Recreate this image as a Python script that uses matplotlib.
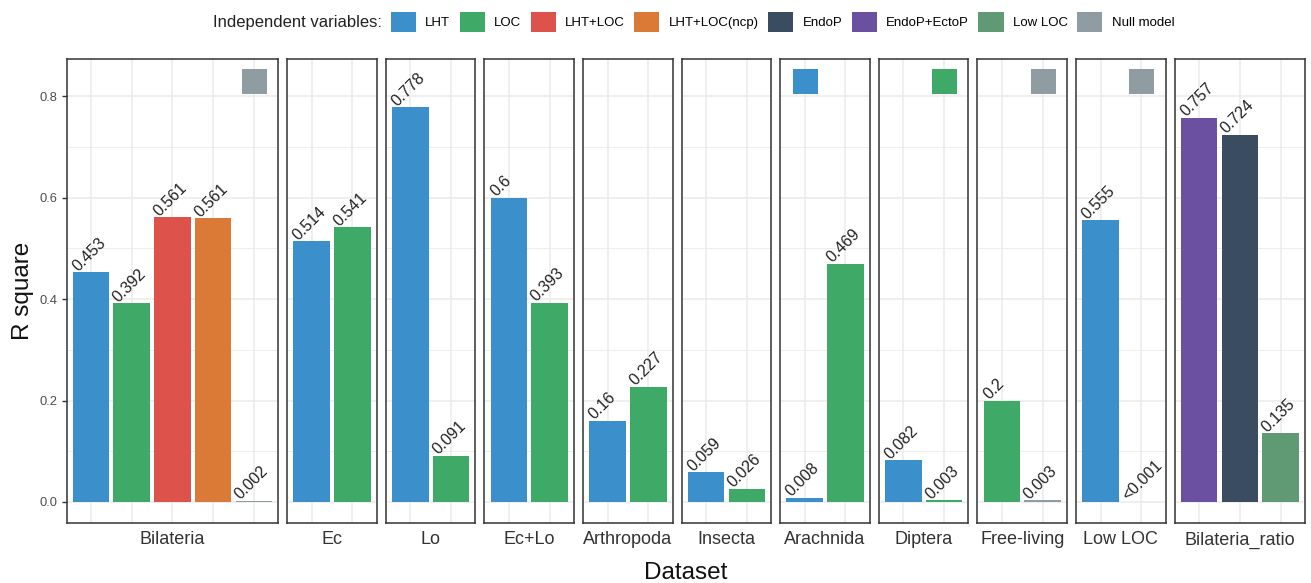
import matplotlib
matplotlib.use("Agg")
import matplotlib.pyplot as plt
from matplotlib.patches import Patch

plt.rcParams["font.family"] = ["Liberation Sans", "DejaVu Sans"]

# legend order and fill colours
models = ["LHT", "LOC", "LHT+LOC", "LHT+LOC(ncp)", "EndoP", "EndoP+EctoP", "Low LOC", "Null model"]
model_colors = ["#3B90CB", "#3FAA67", "#DD524A", "#DB7A37", "#3A4D60", "#6B4FA0", "#5F9A74", "#8F9DA2"]

datasets = ["Bilateria", "Ec", "Lo", "Ec+Lo", "Arthropoda", "Insecta",
            "Arachnida", "Diptera", "Free-living", "Low LOC", "Bilateria_ratio"]

panel_models = [
    ["LHT", "LOC", "LHT+LOC", "LHT+LOC(ncp)", "Null model"],
    ["LHT", "LOC"],
    ["LHT", "LOC"],
    ["LHT", "LOC"],
    ["LHT", "LOC"],
    ["LHT", "LOC"],
    ["LHT", "LOC"],
    ["LHT", "LOC"],
    ["LOC", "Null model"],
    ["LHT", "Null model"],
    ["EndoP+EctoP", "EndoP", "Low LOC"],
]
panel_r2 = [
    [0.453, 0.392, 0.561, 0.559, 0.002],
    [0.514, 0.541],
    [0.778, 0.091],
    [0.600, 0.393],
    [0.160, 0.227],
    [0.059, 0.026],
    [0.008, 0.469],
    [0.082, 0.003],
    [0.200, 0.003],
    [0.555, 0.0004],
    [0.757, 0.724, 0.135],
]
panel_labels = [
    ["0.453", "0.392", "0.561", "0.561", "0.002"],
    ["0.514", "0.541"],
    ["0.778", "0.091"],
    ["0.6", "0.393"],
    ["0.16", "0.227"],
    ["0.059", "0.026"],
    ["0.008", "0.469"],
    ["0.082", "0.003"],
    ["0.2", "0.003"],
    ["0.555", "<0.001"],
    ["0.757", "0.724", "0.135"],
]
# square marker shown at the top of some panels
best_model = ["Null model", None, None, None, None, None, "LHT", "LOC", "Null model", "Null model", None]
marker_y = 0.83

color_of = dict(zip(models, model_colors))

W, H = 1311, 583
fig = plt.figure(figsize=(W / 100, H / 100), dpi=100)

left_px, right_px, top_px, bot_px, gap = 66.5, 1305, 59, 523, 9
widths = [len(m) + 0.2 for m in panel_models]
unit = (right_px - left_px - gap * (len(datasets) - 1)) / sum(widths)

x0 = left_px
for i, name in enumerate(datasets):
    mods = panel_models[i]
    n = len(mods)
    w = widths[i] * unit
    ax = fig.add_axes([x0 / W, 1 - bot_px / H, w / W, (bot_px - top_px) / H])
    xs = list(range(n))
    ax.bar(xs, panel_r2[i], width=0.9, color=[color_of[m] for m in mods], zorder=2)
    for x, v, lab in zip(xs, panel_r2[i], panel_labels[i]):
        ax.text(x - 0.32, v + 0.001, lab, rotation=45, rotation_mode="anchor",
                ha="left", va="baseline", fontsize=11.5, color="#222222", zorder=3)
    if best_model[i] is not None:
        bx = mods.index(best_model[i])
        ax.plot([bx], [marker_y], marker="s", markersize=18, markeredgewidth=0,
                color=color_of[best_model[i]], zorder=3)
    ax.set_xlim(-0.6, n - 0.4)
    ax.set_ylim(-0.0414, 0.873)
    ax.set_xticks(xs)
    ax.set_yticks([0, 0.2, 0.4, 0.6, 0.8])
    ax.set_yticks([0.1, 0.3, 0.5, 0.7], minor=True)
    ax.grid(which="major", color="#EBEBEB", lw=1.1)
    ax.grid(which="minor", axis="y", color="#EBEBEB", lw=0.6)
    ax.set_axisbelow(True)
    ax.tick_params(axis="x", length=0, labelbottom=False)
    ax.tick_params(axis="y", which="minor", length=0)
    if i == 0:
        ax.set_yticklabels(["0.0", "0.2", "0.4", "0.6", "0.8"])
        ax.tick_params(axis="y", which="major", length=3.8, width=1, color="#333333",
                       labelsize=9.3, labelcolor="#4D4D4D", pad=3)
    else:
        ax.tick_params(axis="y", which="major", length=0, labelleft=False)
    for s in ax.spines.values():
        s.set_color("#333333")
        s.set_linewidth(1.1)
    fig.text((x0 + w / 2) / W, 1 - 544.5 / H, name, ha="center", va="baseline",
             fontsize=13, color="#333333")
    x0 += w + gap

fig.text((left_px + right_px) / 2 / W, 1 - 579 / H, "Dataset", ha="center", va="baseline",
         fontsize=17.5, color="#111111")
fig.text(23 / W, 1 - 291 / H, "R square", ha="center", va="center", rotation=90,
         fontsize=17.5, color="#111111")

# legend across the top
fig.text(382 / W, 1 - 22 / H, "Independent variables:", ha="right", va="center",
         fontsize=12, color="#222222")
handles = [Patch(facecolor=c, edgecolor="none") for c in model_colors]
fig.legend(handles, models, ncol=len(models), loc="center left",
           bbox_to_anchor=(391 / W, 1 - 22 / H), frameon=False, fontsize=9.5,
           handlelength=1.9, handleheight=1.9, handletextpad=0.7,
           columnspacing=0.72, borderpad=0, borderaxespad=0)

fig.savefig("out.png", dpi=100)
